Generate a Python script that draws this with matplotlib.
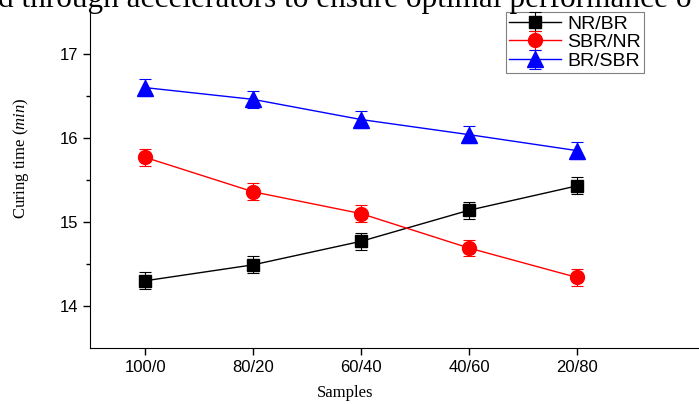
import matplotlib
matplotlib.use("Agg")
import matplotlib.pyplot as plt
import numpy as np

plt.rcParams["mathtext.fontset"] = "custom"
plt.rcParams["mathtext.rm"] = "Liberation Serif"
plt.rcParams["mathtext.it"] = "Liberation Serif:italic"

samples = ["100/0", "80/20", "60/40", "40/60", "20/80"]
nr_br = [14.30, 14.49, 14.77, 15.14, 15.43]
sbr_nr = [15.77, 15.36, 15.10, 14.69, 14.34]
br_sbr = [16.60, 16.46, 16.22, 16.04, 15.85]
err = [0.1, 0.1, 0.1, 0.1, 0.1]

fig = plt.figure(figsize=(6.99, 4.04), dpi=100)
ax = fig.add_axes([90 / 699, 56 / 404, 1 - 90 / 699, 336 / 404])

x = np.arange(len(samples))
series = [(nr_br, "NR/BR", "black", "s", 8),
          (sbr_nr, "SBR/NR", "red", "o", 10),
          (br_sbr, "BR/SBR", "blue", "^", 11)]
for ys, lab, col, mk, ms in series:
    ax.errorbar(x, ys, yerr=err, color=col, marker=mk, markersize=ms, lw=1,
                elinewidth=0.8, capsize=4, capthick=0.8, label=lab)

ax.set_xlim(-0.51, 5.13)
ax.set_ylim(13.5, 17.5)
ax.set_xticks(x)
ax.set_xticklabels(samples, fontfamily="Liberation Sans", fontsize=12)
ax.set_yticks([14, 15, 16, 17])
ax.set_yticks([14.5, 15.5, 16.5], minor=True)
for t in ax.get_yticklabels():
    t.set_fontfamily("Liberation Sans")
    t.set_fontsize(12)
ax.tick_params(direction="out", length=5, width=1)
ax.tick_params(which="minor", length=3, width=1)
ax.spines["top"].set_visible(False)
ax.spines["right"].set_visible(False)

ax.set_xlabel("Samples", fontfamily="Liberation Serif", fontsize=12)
ax.xaxis.set_label_coords((345 - 90) / 609, -37 / 336)
ax.set_ylabel(r"Curing time ($\mathit{min}$)", fontfamily="Liberation Serif",
              fontsize=12)
ax.yaxis.set_label_coords((31 - 90) / 609, (348 - 158) / 336)

fig.text(-0.003, 1 - 7 / 404, "d through accelerators to ensure optimal performance o",
         fontfamily="Liberation Serif", fontsize=22.5, va="baseline", ha="left")

leg = ax.legend(loc="upper left", frameon=True, fancybox=False,
                edgecolor="gray", prop={"family": "Liberation Sans", "size": 14},
                handlelength=2.7, borderpad=0.15, labelspacing=0.06,
                handletextpad=0.3, borderaxespad=0, framealpha=1)
leg.get_frame().set_linewidth(0.8)
leg.set_bbox_to_anchor((506 / 699, 1 - 12 / 404), transform=fig.transFigure)
leg.set_zorder(5)

fig.savefig("out.png", dpi=100)
